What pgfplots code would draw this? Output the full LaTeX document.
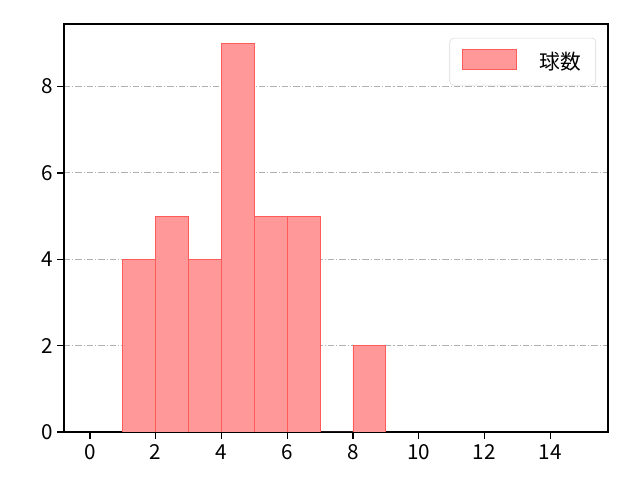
\documentclass[border=0pt]{standalone}
\usepackage{fontspec}
\setmainfont{Noto Sans CJK JP}
\usepackage{pgfplots}
\pgfplotsset{compat=1.18}
\definecolor{barfill}{RGB}{255,153,153}
\definecolor{baredge}{RGB}{255,90,90}
\definecolor{gridc}{RGB}{176,176,176}
\begin{document}
\begin{tikzpicture}
\begin{axis}[
  scale only axis,
  width=408pt, height=306pt,
  xmin=-0.79, xmax=15.76,
  ymin=0, ymax=9.45,
  xtick={0,2,4,6,8,10,12,14},
  ytick={0,2,4,6,8},
  tick align=outside,
  tick pos=left,
  major tick length=5pt,
  tick style={black, line width=0.9pt},
  axis line style={black, line width=0.9pt},
  ymajorgrids,
  grid style={gridc, line width=0.7pt, dash pattern=on 4.8pt off 1.5pt on 0.8pt off 1.5pt},
  ticklabel style={font=\fontsize{15.5}{17}\selectfont},
  xticklabel style={yshift=-1pt},
  /pgf/number format/assume math mode=true,
  legend style={at={(0.978,0.966)}, anchor=north east, draw=black!15, rounded corners=3pt,
    font=\fontsize{15.5}{18}\selectfont, inner xsep=9pt, inner ysep=8pt},
  legend cell align=left,
  legend image code/.code={\draw[sharp corners, fill=barfill, draw=baredge, line width=0.6pt] (0cm,-0.19cm) rectangle (1.42cm,0.34cm);},
  legend style={/tikz/every even column/.append style={column sep=0pt}},
]
\addplot[ybar interval, fill=barfill, draw=baredge, line width=0.6pt] coordinates {
  (1,4) (2,5) (3,4) (4,9) (5,5) (6,5) (7,0) (8,2) (9,2)
};
\addlegendentry{\hspace{1.0em}球数}
\end{axis}
\path[use as bounding box] ([xshift=-48pt,yshift=-36pt]current axis.south west) rectangle ([xshift=24pt,yshift=18pt]current axis.north east);
\end{tikzpicture}
\end{document}
